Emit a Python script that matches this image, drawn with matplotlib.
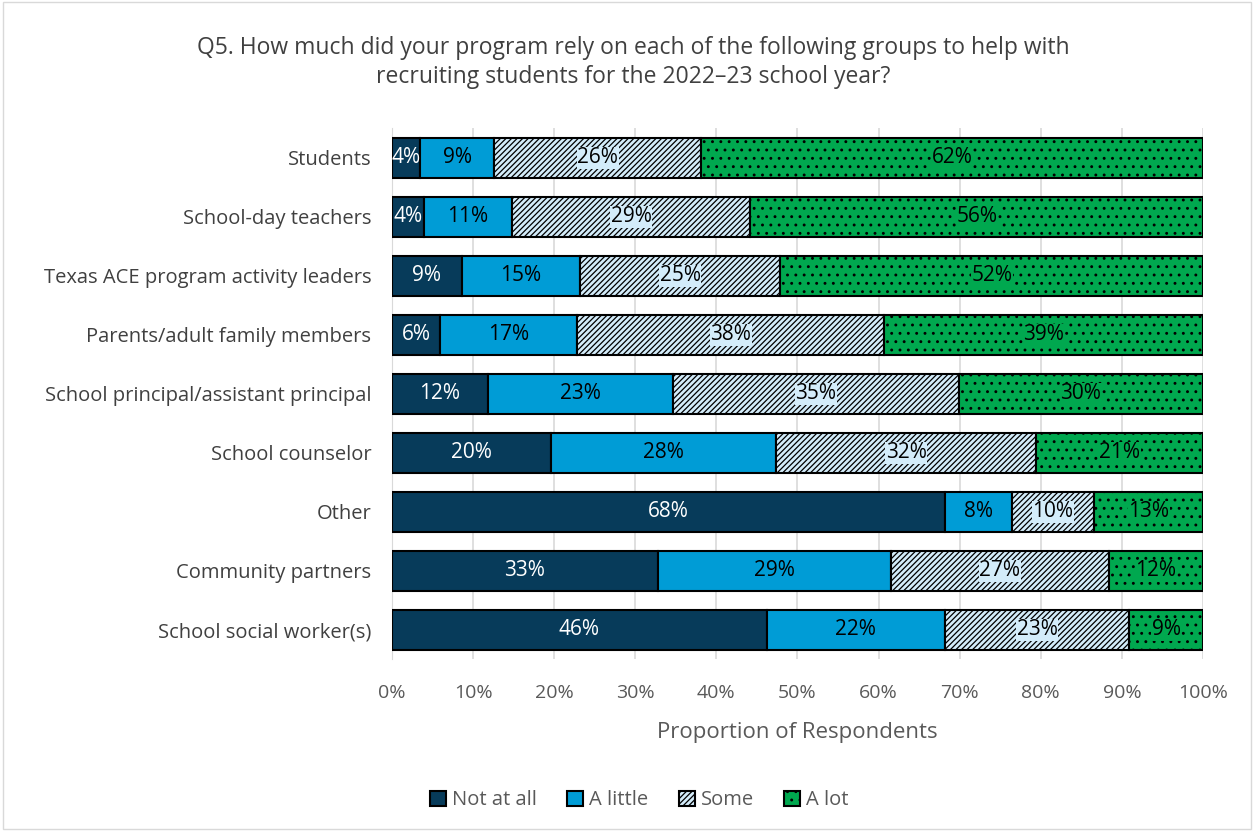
import matplotlib.pyplot as plt
import numpy as np

plt.rcParams['font.family'] = ['Open Sans', 'DejaVu Sans']
plt.rcParams['hatch.linewidth'] = 0.9

groups = [
    "Students",
    "School-day teachers",
    "Texas ACE program activity leaders",
    "Parents/adult family members",
    "School principal/assistant principal",
    "School counselor",
    "Other",
    "Community partners",
    "School social worker(s)",
]

not_at_all = [3.5, 3.9, 8.6, 5.9, 11.8, 19.6, 68.2, 32.8, 46.2]
a_little = [9.1, 10.9, 14.6, 16.9, 22.8, 27.8, 8.2, 28.7, 22.0]
some = [25.5, 29.4, 24.7, 37.9, 35.3, 32.0, 10.2, 26.9, 22.7]
a_lot = [61.9, 55.8, 52.1, 39.3, 30.1, 20.6, 13.4, 11.6, 9.1]

series = [
    ("Not at all", not_at_all, "#073b5a", None, "white"),
    ("A little", a_little, "#009cd6", None, "black"),
    ("Some", some, "#d3ecfa", "//////", "black"),
    ("A lot", a_lot, "#00a84f", "..", "black"),
]

fig = plt.figure(figsize=(12.54, 8.31), dpi=100)
ax = fig.add_axes([0.3126, 0.2064, 0.6467, 0.639])

y = np.arange(len(groups))
left = np.zeros(len(groups))
for name, vals, color, hatch, tcolor in series:
    vals = np.array(vals)
    bars = ax.barh(y, vals, left=left, height=0.68, color=color,
                   edgecolor="black", linewidth=1.5, hatch=hatch, label=name,
                   zorder=3)
    # patterned segments get a plain backing behind the label
    box = dict(facecolor=color, edgecolor="none", pad=0.5) if hatch else None
    for b, v, l in zip(bars, vals, left):
        ax.text(l + v / 2, b.get_y() + b.get_height() / 2, f"{round(v):.0f}%",
                ha="center", va="center", color=tcolor, fontsize=15, zorder=4,
                bbox=box)
    left += vals

ax.set_xlim(0, 100)
ax.set_ylim(len(groups) - 0.5, -0.5)
ax.set_yticks(y)
ax.set_yticklabels(groups, fontsize=14.5, color="#404040")
ax.set_xticks(np.arange(0, 101, 10))
ax.set_xticklabels([f"{t}%" for t in range(0, 101, 10)], fontsize=14, color="#595959")
ax.tick_params(length=0)
ax.tick_params(axis="y", pad=15)
ax.tick_params(axis="x", pad=18)
ax.xaxis.grid(True, color="#d9d9d9", linewidth=1.2, zorder=0)
for s in ["top", "right", "bottom"]:
    ax.spines[s].set_visible(False)
ax.spines["left"].set_color("#d9d9d9")

ax.set_xlabel("Proportion of Respondents", fontsize=16, color="#595959", labelpad=14)

fig.text(0.505, 0.925,
         "Q5. How much did your program rely on each of the following groups to help with\n"
         "recruiting students for the 2022\u201323 school year?",
         ha="center", va="center", fontsize=16.5, color="#404040", linespacing=1.25)

leg = fig.legend(loc="center", bbox_to_anchor=(0.51, 0.037), ncol=4, frameon=False,
                 fontsize=14.5, handlelength=0.8, handleheight=0.8, handletextpad=0.3,
                 columnspacing=1.5)
for t in leg.get_texts():
    t.set_color("#595959")

# thin border around the whole chart area
fig.patches.append(plt.Rectangle((0.002, 0.002), 0.996, 0.996, transform=fig.transFigure,
                                 fill=False, edgecolor="#d9d9d9", linewidth=1))

fig.savefig("out.png", dpi=100)
